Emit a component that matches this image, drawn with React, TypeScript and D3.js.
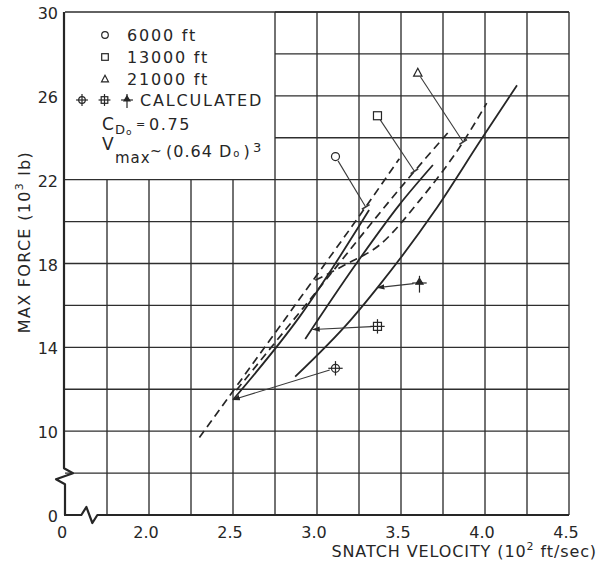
import React from "react";
import * as d3 from "d3";

const W = 603;
const H = 562;

// Snatch velocity (10^2 ft/sec) against max force (10^3 lb)
type Pt = [number, number];

const testCurve6000: Pt[] = [[2.30, 9.7], [2.90, 16.35], [3.29, 20.7], [3.49, 23.0]];
const testCurve13000: Pt[] = [[2.52, 11.95], [2.93, 16.0], [3.58, 22.4], [3.78, 24.25]];
const testCurve21000: Pt[] = [[2.99, 17.2], [3.17, 17.95], [3.375, 18.9], [3.61, 21.0], [3.87, 23.8], [4.01, 25.65]];

const calcCurve6000: Pt[] = [[2.50, 11.5], [2.90, 15.5], [3.31, 20.55]];
const calcCurve13000: Pt[] = [[2.93, 14.4], [3.23, 17.95], [3.49, 20.8], [3.69, 22.7]];
const calcCurve21000: Pt[] = [[2.87, 12.6], [3.20, 15.3], [3.36, 16.85], [3.70, 20.5], [3.98, 23.95], [4.19, 26.5]];

// open test symbols with the curve point they refer to
const testSymbols = ["circle", "square", "triangle"];
const testSymbolAt: Pt[] = [[3.11, 23.1], [3.36, 25.05], [3.60, 27.1]];
const testSymbolTarget: Pt[] = [[3.29, 20.7], [3.58, 22.4], [3.87, 23.8]];

// calculated symbols with the curve point they refer to
const calcSymbols = ["circle", "square", "triangle"];
const calcSymbolAt: Pt[] = [[3.11, 13.0], [3.36, 15.0], [3.61, 17.07]];
const calcSymbolTarget: Pt[] = [[2.50, 11.5], [2.975, 14.85], [3.36, 16.85]];

const xTickValues = [1.5, 2.0, 2.5, 3.0, 3.5, 4.0, 4.5];
const xTickLabels = ["0", "2.0", "2.5", "3.0", "3.5", "4.0", "4.5"];
const yTickValues = [6, 10, 14, 18, 22, 26, 30];
const yTickLabels = ["0", "10", "14", "18", "22", "26", "30"];
const xGridValues = d3.range(1.75, 4.5001, 0.25);
const yGridValues = d3.range(8, 30.001, 2);

const legendLabels = ["6000 ft", "13000 ft", "21000 ft"];

const INK = "#262626";
const FONT = "'DejaVu Sans', sans-serif";

const x = d3.scaleLinear().domain([1.5, 4.5]).range([65, 569]);
const y = d3.scaleLinear().domain([6, 30]).range([515, 12]);

const lineGen = d3
  .line<Pt>()
  .x((d) => x(d[0]))
  .y((d) => y(d[1]))
  .curve(d3.curveMonotoneX);

function OpenSymbol({ kind, cx, cy, s }: { kind: string; cx: number; cy: number; s: number }) {
  const common = { fill: "white", stroke: INK, strokeWidth: 1.2 };
  if (kind === "circle") return <circle cx={cx} cy={cy} r={s} {...common} />;
  if (kind === "square") return <rect x={cx - s} y={cy - s} width={2 * s} height={2 * s} {...common} />;
  return (
    <path
      d={`M${cx},${cy - s * 1.15} L${cx + s * 1.05},${cy + s * 0.85} L${cx - s * 1.05},${cy + s * 0.85} Z`}
      {...common}
    />
  );
}

function CalcSymbol({ kind, cx, cy, s }: { kind: string; cx: number; cy: number; s: number }) {
  const arm = s * 1.8;
  return (
    <g stroke={INK} strokeWidth={1.2}>
      {kind === "circle" && <circle cx={cx} cy={cy} r={s} fill="white" />}
      {kind === "square" && <rect x={cx - s} y={cy - s} width={2 * s} height={2 * s} fill="white" />}
      {kind === "triangle" && (
        <path
          d={`M${cx},${cy - s * 1.2} L${cx + s * 0.9},${cy + s * 0.3} L${cx - s * 0.9},${cy + s * 0.3} Z`}
          fill={INK}
        />
      )}
      <line x1={cx} x2={cx} y1={cy - arm} y2={cy + arm + (kind === "triangle" ? s * 0.6 : 0)} />
      <line x1={cx - arm} x2={cx + arm} y1={cy} y2={cy} />
    </g>
  );
}

export default function App() {
  const legendRight = 2.75;
  const legendBottom = 22;

  // grid: the legend block keeps the top-left corner clear
  const vGrid = xGridValues.map((v) => ({
    v,
    y1: v < legendRight - 1e-6 ? y(legendBottom) : y(30),
  }));
  const hGrid = yGridValues.map((f) => ({
    f,
    x1: f > legendBottom + 1e-6 ? x(legendRight) : x(1.5),
  }));

  const x0 = x(1.5);
  const yb = y(6);
  const yBreak = y(7.85);
  const xBreak = x(1.645);

  const leftAxis = `M${x0 - 1},${y(30)} L${x0 - 1},${yBreak - 8} L${x0 + 8},${yBreak - 3} L${x0 - 9},${yBreak + 3} L${x0},${yBreak + 8} L${x0},${yb}`;
  const bottomAxis = `M${x0 - 1},${yb} L${xBreak - 8},${yb} L${xBreak - 3},${yb - 8} L${xBreak + 3},${yb + 8} L${xBreak + 8},${yb} L${x(4.5)},${yb}`;

  const testLeaders = testSymbolAt.map((p, i) => {
    const sx = x(p[0]);
    const sy = y(p[1]);
    const tx = x(testSymbolTarget[i][0]);
    const ty = y(testSymbolTarget[i][1]);
    const len = Math.hypot(tx - sx, ty - sy);
    const ux = (tx - sx) / len;
    const uy = (ty - sy) / len;
    return { sx: sx + ux * 5, sy: sy + uy * 5, tx, ty, px: -uy, py: ux };
  });

  const calcLeaders = calcSymbolAt.map((p, i) => {
    const sx = x(p[0]);
    const sy = y(p[1]);
    const tx = x(calcSymbolTarget[i][0]);
    const ty = y(calcSymbolTarget[i][1]);
    const len = Math.hypot(tx - sx, ty - sy);
    const ux = (tx - sx) / len;
    const uy = (ty - sy) / len;
    return { sx: sx + ux * 6, sy: sy + uy * 6, tx, ty };
  });

  const dashed = [testCurve6000, testCurve13000, testCurve21000];
  const solid = [calcCurve6000, calcCurve13000, calcCurve21000];

  return (
    <svg
      width={W}
      height={H}
      viewBox={`0 0 ${W} ${H}`}
      style={{ position: "absolute", left: 0, top: 0, background: "white" }}
      fontFamily={FONT}
    >
      <defs>
        <marker id="arrowHead" viewBox="0 0 10 10" refX="9" refY="5" markerWidth="7" markerHeight="7" orient="auto">
          <path d="M0,1.5 L10,5 L0,8.5 Z" fill={INK} />
        </marker>
      </defs>
      <rect width={W} height={H} fill="white" />

      {/* grid */}
      <g stroke="#2e2e2e" strokeWidth={1.35}>
        {vGrid.map((g) => (
          <line key={`v${g.v}`} x1={x(g.v)} x2={x(g.v)} y1={g.y1} y2={yb} />
        ))}
        {hGrid.map((g) => (
          <line key={`h${g.f}`} x1={g.x1} x2={x(4.5)} y1={y(g.f)} y2={y(g.f)} />
        ))}
        <line x1={x0} x2={x(4.5)} y1={y(30)} y2={y(30)} strokeWidth={1.7} />
      </g>

      {/* axes with breaks */}
      <path d={leftAxis} fill="none" stroke={INK} strokeWidth={2.2} strokeLinejoin="round" />
      <path d={bottomAxis} fill="none" stroke={INK} strokeWidth={2.2} strokeLinejoin="round" />

      {/* curves */}
      {dashed.map((c, i) => (
        <path key={`d${i}`} d={lineGen(c) || ""} fill="none" stroke={INK} strokeWidth={1.7} strokeDasharray="8,5" />
      ))}
      {solid.map((c, i) => (
        <path key={`s${i}`} d={lineGen(c) || ""} fill="none" stroke={INK} strokeWidth={1.8} />
      ))}

      {/* leaders */}
      <g stroke="#3a3a3a" strokeWidth={1.1}>
        {testLeaders.map((l, i) => (
          <g key={`tl${i}`}>
            <line x1={l.sx} y1={l.sy} x2={l.tx} y2={l.ty} />
            <line x1={l.tx - l.px * 4.5} y1={l.ty - l.py * 4.5} x2={l.tx + l.px * 4.5} y2={l.ty + l.py * 4.5} strokeWidth={1.6} />
          </g>
        ))}
        {calcLeaders.map((l, i) => (
          <line key={`cl${i}`} x1={l.sx} y1={l.sy} x2={l.tx} y2={l.ty} markerEnd="url(#arrowHead)" />
        ))}
      </g>

      {/* symbols */}
      {testSymbolAt.map((p, i) => (
        <OpenSymbol key={`ts${i}`} kind={testSymbols[i]} cx={x(p[0])} cy={y(p[1])} s={4} />
      ))}
      {calcSymbolAt.map((p, i) => (
        <CalcSymbol key={`cs${i}`} kind={calcSymbols[i]} cx={x(p[0])} cy={y(p[1])} s={4} />
      ))}

      {/* tick labels */}
      <g fill={INK} fontSize={16}>
        {xTickValues.map((v, i) => (
          <text key={`xt${i}`} x={x(v) - 3} y={538} textAnchor="middle">
            {xTickLabels[i]}
          </text>
        ))}
        {yTickValues.map((v, i) => (
          <text key={`yt${i}`} x={58} y={y(v) + 7} textAnchor="end">
            {yTickLabels[i]}
          </text>
        ))}
      </g>

      {/* axis titles */}
      <text
        transform={`translate(30, 242) rotate(-90)`}
        textAnchor="middle"
        fontSize={16}
        letterSpacing={1.3}
        fill={INK}
      >
        MAX FORCE (10
        <tspan fontSize={11} dy={-7}>3</tspan>
        <tspan dy={7}> lb)</tspan>
      </text>
      <text x={597} y={557} textAnchor="end" fontSize={16} letterSpacing={0.9} fill={INK}>
        SNATCH VELOCITY (10
        <tspan fontSize={11} dy={-7}>2</tspan>
        <tspan dy={7}> ft/sec)</tspan>
      </text>

      {/* legend */}
      <g fill={INK} fontSize={16} letterSpacing={1.8}>
        {legendLabels.map((lab, i) => (
          <g key={`lg${i}`}>
            <OpenSymbol kind={testSymbols[i]} cx={105} cy={35 + i * 22} s={3.3} />
            <text x={127} y={41 + i * 22}>{lab}</text>
          </g>
        ))}
        {calcSymbols.map((k, i) => (
          <CalcSymbol key={`lc${i}`} kind={k} cx={82 + i * 22.5} cy={100} s={3.3} />
        ))}
        <text x={140} y={106}>CALCULATED</text>
      </g>
      <g fill={INK} letterSpacing={1}>
        <text x={102} y={130} fontSize={17}>C</text>
        <text x={115} y={134} fontSize={13}>D</text>
        <text x={126} y={135} fontSize={9}>o</text>
        <text x={136} y={128} fontSize={11}>=</text>
        <text x={149} y={130} fontSize={16} letterSpacing={1.6}>0.75</text>

        <text x={102} y={150} fontSize={17}>V</text>
        <text x={115} y={163} fontSize={15}>max</text>
        <text x={150} y={156} fontSize={14}>~</text>
        <text x={166} y={157} fontSize={16}>
          (0.64 D
          <tspan fontSize={10} dx={1}>o</tspan>
          <tspan dx={3}>)</tspan>
        </text>
        <text x={253} y={152} fontSize={13}>3</text>
      </g>
    </svg>
  );
}
